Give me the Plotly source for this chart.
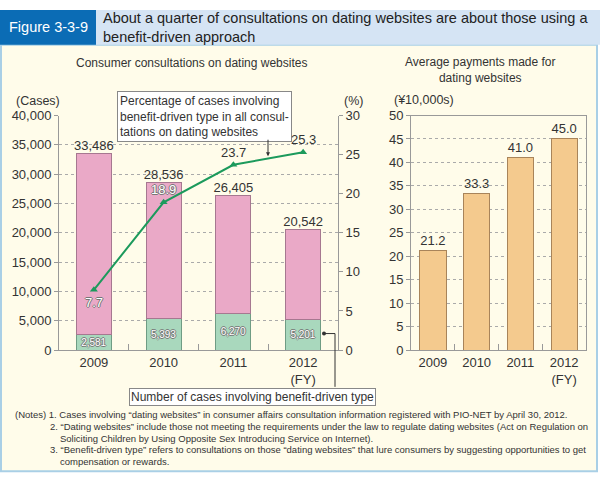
import plotly.graph_objects as go

# data
years = ["2009", "2010", "2011", "2012"]
year_labels = ["2009", "2010", "2011", "2012<br>(FY)"]
total_cases = [33486, 28536, 26405, 20542]
benefit_cases = [2581, 5393, 6270, 5201]
benefit_pct = [7.7, 18.9, 23.7, 25.3]
avg_payment = [21.2, 33.3, 41.0, 45.0]

other_cases = [t - b for t, b in zip(total_cases, benefit_cases)]

W, H = 600, 484
def px(x): return x / W
def py(y): return 1 - y / H

FONT = "Liberation Sans, Arial, sans-serif"
TXT = "#333333"
AX = "#999999"
OUTLINE = "-1px 0 #777, 1px 0 #777, 0 -1px #777, 0 1px #777"

fig = go.Figure()

# left chart: stacked bars
fig.add_trace(go.Bar(
    x=years, y=benefit_cases, width=0.5,
    marker=dict(color="#a9d8bd", line=dict(color="#6f9c84", width=1)),
    text=[f"{v:,}" for v in benefit_cases], textposition="inside",
    insidetextanchor="middle", constraintext="none",
    textfont=dict(size=10, color="white", shadow=OUTLINE),
    xaxis="x", yaxis="y", hoverinfo="skip"))
fig.add_trace(go.Bar(
    x=years, y=other_cases, width=0.5,
    marker=dict(color="#eaa9c7", line=dict(color="#a67890", width=1)),
    xaxis="x", yaxis="y", hoverinfo="skip"))
fig.add_trace(go.Scatter(
    x=years, y=total_cases, mode="text",
    text=[f"{v:,}" for v in total_cases], textposition="top center",
    textfont=dict(size=13, color=TXT), xaxis="x", yaxis="y",
    cliponaxis=False, hoverinfo="skip"))

# percentage line
fig.add_trace(go.Scatter(
    x=years, y=benefit_pct, mode="lines+markers",
    line=dict(color="#1c9a5c", width=2),
    marker=dict(symbol="triangle-up", size=7, color="#1c9a5c"),
    xaxis="x", yaxis="y2", hoverinfo="skip"))

# right chart: payments
fig.add_trace(go.Bar(
    x=years, y=avg_payment, width=0.6,
    marker=dict(color="#f4ca8e", line=dict(color="#a8845a", width=1)),
    text=[f"{v:.1f}" for v in avg_payment], textposition="outside",
    textfont=dict(size=13, color=TXT), cliponaxis=False,
    xaxis="x2", yaxis="y3", hoverinfo="skip"))

annotations = []

def txt(x, y, s, size=12, color=TXT, xanchor="left", yanchor="middle", align="left", **kw):
    annotations.append(dict(x=px(x), y=py(y), xref="paper", yref="paper", text=s,
                            showarrow=False, xanchor=xanchor, yanchor=yanchor,
                            align=align, font=dict(size=size, color=color, family=FONT), **kw))

txt(48, 21, "Figure 3-3-9", size=14.5, color="white", xanchor="center")
txt(101, 21, "About a quarter of consultations on dating websites are about those using a<br>"
    "benefit-driven approach", size=14.5, color="#222222")
txt(191, 58, "Consumer consultations on dating websites", xanchor="center")
txt(480, 65, "Average payments made for<br>dating websites", xanchor="center", align="center")
txt(14, 97, "(Cases)", size=12.5)
txt(342, 97, "(%)", size=12.5)
txt(392, 96, "(¥10,000s)", size=12.5)

txt(117, 113, "Percentage of cases involving<br>benefit-driven type in all consul-<br>"
    "tations on dating websites", size=12, bgcolor="white", bordercolor="#888888",
    borderwidth=1, borderpad=2)
txt(252, 402, "Number of cases involving benefit-driven type", size=12, xanchor="center",
    bgcolor="white", bordercolor="#888888", borderwidth=1, borderpad=1)

# arrow from the top callout to the line
annotations.append(dict(x=px(268), y=py(154), xref="paper", yref="paper", text="",
                        showarrow=True, ax=0, ay=-18, arrowhead=2, arrowsize=0.8,
                        arrowwidth=1, arrowcolor="#333333"))

# percentage labels (drawn after the callout so they stay on top)
for i, p in enumerate(benefit_pct):
    inside = i < 2
    annotations.append(dict(
        x=i, y=p, xref="x", yref="y2", text=f"{p}", showarrow=False,
        yanchor="top" if i == 0 else "bottom", yshift=-3 if i == 0 else 3,
        font=dict(size=13, color="white" if inside else TXT,
                  shadow=OUTLINE if inside else "none")))

notes = [
    (13, 421, "(Notes) 1. Cases involving “dating websites” in consumer affairs consultation information registered with PIO-NET by April 30, 2012."),
    (48, 433, "2. “Dating websites” include those not meeting the requirements under the law to regulate dating websites (Act on Regulation on"),
    (58, 445, "Soliciting Children by Using Opposite Sex Introducing Service on Internet)."),
    (48, 457, "3. “Benefit-driven type” refers to consultations on those “dating websites” that lure consumers by suggesting opportunities to get"),
    (58, 469, "compensation or rewards."),
]
for x, y, s in notes:
    txt(x, y, s, size=9.5, color="#333333")

shapes = [
    dict(type="rect", xref="paper", yref="paper", x0=px(1), x1=px(597), y0=py(479), y1=py(39),
         fillcolor="#fffcea", line=dict(color="#a9cfe6", width=2), layer="below"),
    dict(type="rect", xref="paper", yref="paper", x0=px(96), x1=1, y0=py(39), y1=py(3),
         fillcolor="#d5e4f4", line=dict(width=0), layer="below"),
    dict(type="rect", xref="paper", yref="paper", x0=0, x1=px(96), y0=py(39), y1=py(3),
         fillcolor="#0b6cb5", line=dict(width=0), layer="below"),
    dict(type="path", xref="paper", yref="paper",
         path=f"M {px(324)} {py(337)} L {px(335)} {py(337)} L {px(335)} {py(392)}",
         line=dict(color="#333333", width=1)),
    dict(type="circle", xref="paper", yref="paper", x0=px(322), x1=px(326),
         y0=py(339), y1=py(335), fillcolor="#333333", line=dict(width=0)),
]

yx = dict(tickfont=dict(size=13, color=TXT, family=FONT), showline=True, linecolor=AX,
          ticks="outside", ticklen=4, tickcolor=AX, zeroline=False)
xx = dict(type="category", range=[-0.5, 3.5], showline=True, linecolor=AX, ticks="inside",
          tickson="boundaries", ticklen=6, tickcolor=AX, tickvals=years, ticktext=year_labels,
          tickfont=dict(size=13, color=TXT, family=FONT))

fig.update_layout(
    width=W, height=H, autosize=False, margin=dict(l=0, r=0, t=0, b=0),
    paper_bgcolor="white", plot_bgcolor="white", showlegend=False,
    barmode="stack", font=dict(family=FONT, color=TXT),
    xaxis=dict(domain=[px(59), px(338)], anchor="y", **xx),
    yaxis=dict(domain=[py(354), py(112)], range=[0, 40000], dtick=5000, tickformat=",d",
               showgrid=True, gridcolor="#aaaaaa", griddash="dot", **yx),
    yaxis2=dict(overlaying="y", side="right", anchor="x", range=[0, 30], dtick=5,
                showgrid=False, **yx),
    xaxis2=dict(domain=[px(411), px(586)], anchor="y3", mirror=True, **xx),
    yaxis3=dict(domain=[py(354), py(112)], anchor="x2", range=[0, 50], dtick=5,
                showgrid=True, gridcolor="#aaaaaa", griddash="dot", mirror=True, **yx),
    annotations=annotations, shapes=shapes,
)

# the page has a default 8px body margin; drop it so the figure fills the window
fig.write_html("out.html", config={"displayModeBar": False, "responsive": False},
               post_script="document.body.style.margin='0';")
